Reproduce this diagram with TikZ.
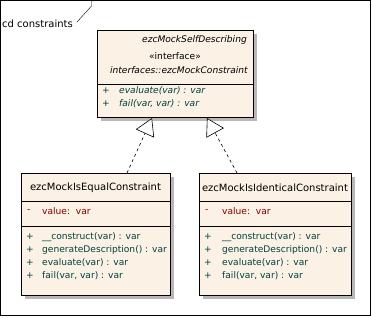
\documentclass[tikz,border=0pt]{standalone}
\usepackage{fontspec}
\setmainfont{DejaVu Sans}
\usepackage{xcolor}
\usetikzlibrary{calc,arrows.meta,shadows}
\definecolor{classfill}{RGB}{251,241,228}
\definecolor{opcolor}{RGB}{0,64,64}
\definecolor{attrcolor}{RGB}{128,0,0}
\newcommand\umlsize{\fontsize{10}{12}\selectfont}
\newcommand\membersize{\fontsize{9.1}{11}\selectfont}

\begin{document}
\begin{tikzpicture}[x=1pt, y=-1pt, font=\umlsize,
    classbox/.style={draw, fill=classfill, line width=1pt, anchor=north west, inner sep=0,
        drop shadow={shadow xshift=3pt, shadow yshift=-3pt, fill=black!28, opacity=1}},
    member/.style={anchor=west, inner sep=0, font=\membersize},
    op/.style={member, text=opcolor},
    attr/.style={member, text=attrcolor},
    realize/.style={line width=.6pt, dash pattern=on 3pt off 3pt,
        -{Triangle[open, width=20pt, length=17pt, fill=white]}}
]
    \useasboundingbox (0,0) rectangle (372,317);
    % diagram frame
    \draw[line width=.8pt] (0.5,0.5) rectangle (370.5,315.5);
    \draw (91.5,0.5) -- (91.5,6) -- (77,22);
    \node[anchor=west, inner sep=0] (frame) at (2,24) {cd constraints};

    % interface
    \node[classbox, minimum width=156pt, minimum height=87pt] (iface) at (97,30) {};
    \draw[line width=.8pt] (97,84) -- (253,84);
    \node[anchor=east, inner sep=0, font=\membersize\itshape] (iparent) at (247,40) {ezcMockSelfDescribing};
    \node[inner sep=0, font=\membersize] (istereo) at (175,56) {«interface»};
    \node[anchor=east, inner sep=0, font=\membersize\itshape] (iname) at (248,70) {interfaces::ezcMockConstraint};
    \node[op] (iplus1) at (102,91) {+};
    \node[op, font=\membersize\itshape] (iop1) at (119,91) {evaluate(var) : var};
    \node[op] (iplus2) at (102,104) {+};
    \node[op, font=\membersize\itshape] (iop2) at (119,104) {fail(var, var) : var};

    % ezcMockIsEqualConstraint
    \node[classbox, minimum width=149pt, minimum height=122pt] (equal) at (21,173) {};
    \draw[line width=.8pt] (21,201) -- (170,201);
    \draw[line width=.8pt] (21,226) -- (170,226);
    \node[inner sep=0] (eqname) at (95.5,188) {ezcMockIsEqualConstraint};
    \node[attr] (eqminus) at (27,211) {-};
    \node[attr] (eqattr) at (42,211) {value:\ \ var};
    \foreach \y/\m in {237/\_\_construct(var) : var, 250/generateDescription() : var,
                       263/evaluate(var) : var, 276/{fail(var, var) : var}} {
        \node[op] at (26,\y) {+};
        \node[op] at (42,\y) {\m};
    }

    % ezcMockIsIdenticalConstraint
    \node[classbox, minimum width=152pt, minimum height=122pt] (ident) at (199,173) {};
    \draw[line width=.8pt] (199,201) -- (351,201);
    \draw[line width=.8pt] (199,226) -- (351,226);
    \node[inner sep=0] (idname) at (275,188) {ezcMockIsIdenticalConstraint};
    \node[attr] (idminus) at (205,211) {-};
    \node[attr] (idattr) at (222,211) {value:\ \ var};
    \foreach \y/\m in {237/\_\_construct(var) : var, 250/generateDescription() : var,
                       263/evaluate(var) : var, 276/{fail(var, var) : var}} {
        \node[op] at (204,\y) {+};
        \node[op] at (222,\y) {\m};
    }

    % realizations
    \coordinate (iface-l) at ($(iface.south west)+(55,0)$);
    \coordinate (iface-r) at ($(iface.south west)+(110,0)$);
    \coordinate (equal-t) at ($(equal.north west)+(106,0)$);
    \coordinate (ident-t) at ($(ident.north west)+(38,0)$);
    \draw[realize] (equal-t) -- (iface-l);
    \draw[realize] (ident-t) -- (iface-r);
\end{tikzpicture}
\end{document}
